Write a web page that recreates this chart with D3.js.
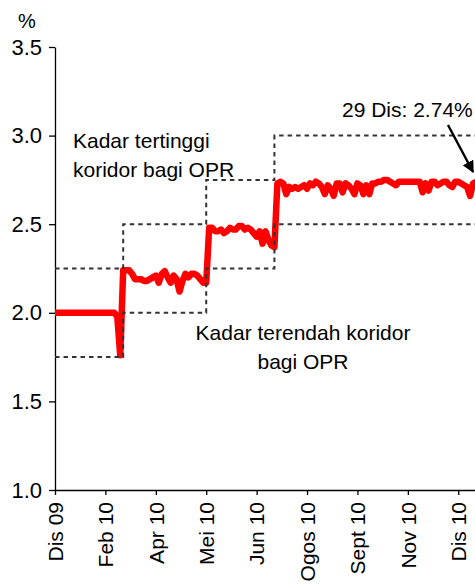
<!DOCTYPE html>
<html>
<head>
<meta charset="utf-8">
<script src="https://cdn.jsdelivr.net/npm/d3@7"></script>
<style>
  html, body { margin: 0; padding: 0; background: #fff; }
  svg { display: block; font-family: "Liberation Sans", Arial, sans-serif; }
</style>
</head>
<body>
<script>
// Tick labels on the x axis (observation index of each tick)
const tickIndex = [0, 17, 34, 51, 68, 85, 102, 119, 136];
const tickLabels = ['Dis 09', 'Feb 10', 'Apr 10', 'Mei 10', 'Jun 10', 'Ogos 10', 'Sept 10', 'Nov 10', 'Dis 10'];
const yTicks = [1.0, 1.5, 2.0, 2.5, 3.0, 3.5];

// OPR corridor: index where each level starts, upper and lower bound
const corridorStart = [0, 23, 51, 74];
const corridorUpper = [2.25, 2.50, 2.75, 3.00];
const corridorLower = [1.75, 2.00, 2.25, 2.50];
const corridorEnd = 142;

// Overnight interbank rate, %, one reading per observation
const overnightRate = [
  2.00, 2.00, 2.00, 2.00, 2.00, 2.00, 2.00, 2.00, 2.00, 2.00,
  2.00, 2.00, 2.00, 2.00, 2.00, 2.00, 2.00, 2.00, 2.00, 2.00,
  2.00, 1.98, 1.76, 2.24, 2.24, 2.24, 2.22, 2.19, 2.19, 2.19,
  2.18, 2.18, 2.19, 2.20, 2.21, 2.17, 2.22, 2.235, 2.20, 2.17,
  2.21, 2.19, 2.12, 2.18, 2.22, 2.20, 2.22, 2.22, 2.21, 2.19,
  2.17, 2.17, 2.48, 2.48, 2.46, 2.46, 2.47, 2.45, 2.46, 2.48,
  2.47, 2.47, 2.49, 2.49, 2.47, 2.48, 2.47, 2.45, 2.43, 2.46,
  2.39, 2.46, 2.41, 2.38, 2.37, 2.73, 2.74, 2.73, 2.67, 2.71,
  2.70, 2.71, 2.70, 2.71, 2.72, 2.70, 2.73, 2.72, 2.74, 2.73,
  2.71, 2.67, 2.72, 2.70, 2.66, 2.73, 2.73, 2.68, 2.73, 2.72,
  2.70, 2.67, 2.73, 2.72, 2.67, 2.72, 2.67, 2.73, 2.73, 2.74,
  2.74, 2.75, 2.75, 2.74, 2.73, 2.72, 2.74, 2.74, 2.74, 2.74,
  2.74, 2.74, 2.74, 2.74, 2.68, 2.73, 2.69, 2.74, 2.74, 2.72,
  2.73, 2.74, 2.74, 2.72, 2.71, 2.74, 2.74, 2.73, 2.72, 2.71,
  2.66, 2.73, 2.74
];

const width = 475;
const height = 588;
const margin = { left: 55, top: 47, bottom: 98 };

const svg = d3.select('body')
  .append('svg')
  .attr('width', width)
  .attr('height', height);

const x = d3.scaleLinear()
  .domain([0, 141.65])
  .range([margin.left, width]);

const y = d3.scaleLinear()
  .domain([1.0, 3.5])
  .range([height - margin.bottom, margin.top]);

// Axes
const yAxis = svg.append('g')
  .attr('transform', `translate(${margin.left},0)`)
  .call(d3.axisLeft(y).tickValues(yTicks).tickFormat(d3.format('.1f')).tickSize(6).tickPadding(7).tickSizeOuter(0));

const xAxis = svg.append('g')
  .attr('transform', `translate(0,${height - margin.bottom})`)
  .call(d3.axisBottom(x).tickValues(tickIndex).tickFormat((d, i) => tickLabels[i]).tickSize(5).tickSizeOuter(0));

[yAxis, xAxis].forEach(a => {
  a.attr('font-family', null).attr('font-size', null);
  a.select('.domain').attr('stroke', '#000').attr('stroke-width', 1.3);
  a.selectAll('.tick line').attr('stroke', '#000').attr('stroke-width', 1.3);
  a.selectAll('text').attr('fill', '#000').style('font-size', '21px');
});
yAxis.selectAll('text').style('font-size', '22px');

xAxis.selectAll('text')
  .attr('x', 0)
  .attr('y', 0)
  .attr('dy', '0.35em')
  .attr('transform', 'translate(0,12) rotate(-90)')
  .style('text-anchor', 'end');

svg.append('text')
  .attr('x', 27)
  .attr('y', 28)
  .attr('text-anchor', 'middle')
  .style('font-size', '20px')
  .text('%');

// Overnight rate line
const rateLine = d3.line()
  .x((d, i) => x(i))
  .y(d => y(d));

svg.append('path')
  .datum(overnightRate)
  .attr('d', rateLine)
  .attr('fill', 'none')
  .attr('stroke', '#ff0000')
  .attr('stroke-width', 6.5)
  .attr('stroke-linejoin', 'round');

// Corridor bounds as dashed step lines
const stepLine = d3.line()
  .x(d => x(d[0]))
  .y(d => y(d[1]))
  .curve(d3.curveStepAfter);

[corridorUpper, corridorLower].forEach(levels => {
  const pts = corridorStart.map((s, i) => [s, levels[i]]);
  pts.push([corridorEnd, levels[levels.length - 1]]);
  svg.append('path')
    .attr('d', stepLine(pts))
    .attr('fill', 'none')
    .attr('stroke', '#333')
    .attr('stroke-width', 2)
    .attr('stroke-dasharray', '4.5,4');
});

// Annotations
const upperNote = svg.append('text')
  .style('font-size', '21px');
upperNote.append('tspan').attr('x', 73).attr('y', 148).text('Kadar tertinggi');
upperNote.append('tspan').attr('x', 73).attr('y', 177).text('koridor bagi OPR');

const lowerNote = svg.append('text')
  .attr('text-anchor', 'middle')
  .style('font-size', '21px');
lowerNote.append('tspan').attr('x', 303).attr('y', 340).text('Kadar terendah koridor');
lowerNote.append('tspan').attr('x', 303).attr('y', 369).text('bagi OPR');

svg.append('text')
  .attr('x', 342)
  .attr('y', 117)
  .style('font-size', '21px')
  .text('29 Dis: 2.74%');

svg.append('defs')
  .append('marker')
  .attr('id', 'arrow')
  .attr('viewBox', '0 0 10 10')
  .attr('refX', 9)
  .attr('refY', 5)
  .attr('markerWidth', 5)
  .attr('markerHeight', 5)
  .attr('orient', 'auto')
  .append('path')
  .attr('d', 'M0,0 L10,5 L0,10 Z')
  .attr('fill', '#000');

svg.append('line')
  .attr('x1', 448)
  .attr('y1', 125)
  .attr('x2', x(141))
  .attr('y2', 172)
  .attr('stroke', '#000')
  .attr('stroke-width', 2.4)
  .attr('marker-end', 'url(#arrow)');
</script>
</body>
</html>
